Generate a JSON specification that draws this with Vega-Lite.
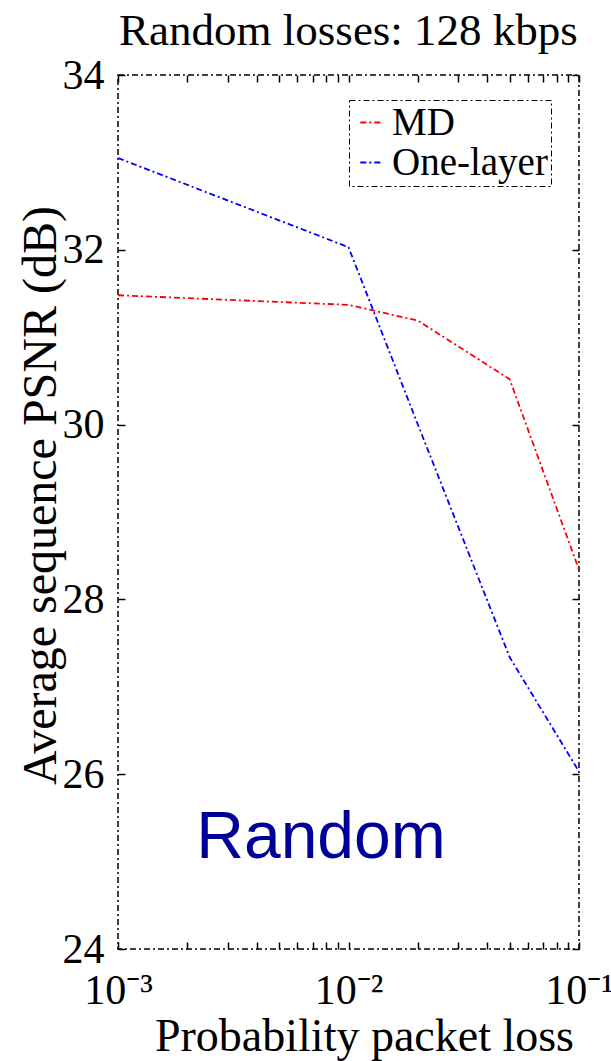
{
  "$schema": "https://vega.github.io/schema/vega-lite/v6.json",
  "width": 461,
  "height": 874,
  "autosize": {"type": "none"},
  "padding": {"left": 118, "top": 75, "right": 32, "bottom": 112},
  "background": "white",
  "config": {
    "font": "Liberation Serif",
    "view": {"stroke": "black", "strokeWidth": 1.5, "strokeDash": [6, 3, 2, 3]},
    "axis": {"grid": false, "domain": false, "tickColor": "black", "tickWidth": 1.5, "labelColor": "black", "titleColor": "black", "titleFontWeight": "normal", "labelFont": "Liberation Serif", "titleFont": "Liberation Serif"},
    "legend": {"strokeDash": [6, 3, 2, 3]}
  },
  "title": {"text": "Random losses: 128 kbps", "font": "Liberation Serif", "fontSize": 45, "fontWeight": "normal", "color": "black", "anchor": "middle", "offset": 0},
  "datasets": {
    "curves": [
      {"p": 0.001, "psnr": 31.48, "method": "MD"},
      {"p": 0.01, "psnr": 31.37, "method": "MD"},
      {"p": 0.02, "psnr": 31.19, "method": "MD"},
      {"p": 0.05, "psnr": 30.52, "method": "MD"},
      {"p": 0.1, "psnr": 28.34, "method": "MD"},
      {"p": 0.001, "psnr": 33.05, "method": "One-layer"},
      {"p": 0.01, "psnr": 32.03, "method": "One-layer"},
      {"p": 0.02, "psnr": 30.0, "method": "One-layer"},
      {"p": 0.05, "psnr": 27.34, "method": "One-layer"},
      {"p": 0.1, "psnr": 26.03, "method": "One-layer"}
    ],
    "note": [{"p": 0.0076, "psnr": 25.04, "label": "Random"}]
  },
  "layer": [
    {
      "data": {"name": "curves"},
      "mark": {"type": "line", "strokeWidth": 1.8, "strokeDash": [6, 3, 2, 3], "clip": true},
      "encoding": {
        "x": {
          "field": "p", "type": "quantitative",
          "scale": {"type": "log", "domain": [0.001, 0.1], "nice": false},
          "axis": {
            "orient": "bottom",
            "values": [0.001, 0.002, 0.003, 0.004, 0.005, 0.006, 0.007, 0.008, 0.009, 0.01, 0.02, 0.03, 0.04, 0.05, 0.06, 0.07, 0.08, 0.09, 0.1],
            "labelExpr": "datum.value == 0.001 ? '10⁻³' : datum.value == 0.01 ? '10⁻²' : datum.value == 0.1 ? '10⁻¹' : ''",
            "labelOverlap": false, "labelFlush": false, "labelBound": false,
            "tickSize": -7, "labelPadding": 28, "labelFontSize": 42,
            "title": "Probability packet loss", "titleFontSize": 46,
            "titleX": 246, "titleY": 101, "titleBaseline": "alphabetic", "titleAlign": "center", "titleAnchor": null
          }
        },
        "y": {
          "field": "psnr", "type": "quantitative",
          "scale": {"domain": [24, 34], "nice": false, "zero": false},
          "axis": {
            "orient": "left", "values": [24, 26, 28, 30, 32, 34],
            "tickSize": -7, "labelPadding": 21, "labelFontSize": 42,
            "title": "Average sequence PSNR (dB)", "titleFontSize": 48,
            "titleX": -63, "titleY": 420, "titleAngle": -90, "titleBaseline": "alphabetic", "titleAlign": "center", "titleAnchor": null
          }
        },
        "color": {
          "field": "method", "type": "nominal",
          "scale": {"domain": ["MD", "One-layer"], "range": ["#ff0000", "#0000ff"]},
          "legend": {
            "orient": "none", "legendX": 231, "legendY": 25, "title": null,
            "symbolType": "stroke", "symbolSize": 500, "symbolStrokeWidth": 1.8, "symbolDash": [6, 3, 2, 3],
            "labelFontSize": 39, "labelFont": "Liberation Serif", "labelColor": "black", "labelOffset": 1,
            "rowPadding": -12, "padding": 3, "strokeColor": "black", "fillColor": "white"
          }
        }
      }
    },
    {
      "data": {"name": "note"},
      "mark": {"type": "text", "font": "Liberation Sans", "fontSize": 66, "color": "#000099", "align": "center", "baseline": "alphabetic"},
      "encoding": {
        "x": {"field": "p", "type": "quantitative", "axis": {"orient": "top", "values": [0.001, 0.002, 0.003, 0.004, 0.005, 0.006, 0.007, 0.008, 0.009, 0.01, 0.02, 0.03, 0.04, 0.05, 0.06, 0.07, 0.08, 0.09, 0.1], "labels": false, "tickSize": -7, "title": null}},
        "y": {"field": "psnr", "type": "quantitative", "axis": {"orient": "right", "values": [24, 26, 28, 30, 32, 34], "labels": false, "tickSize": -7, "title": null}},
        "text": {"field": "label"}
      }
    }
  ],
  "resolve": {"axis": {"x": "independent", "y": "independent"}}
}
